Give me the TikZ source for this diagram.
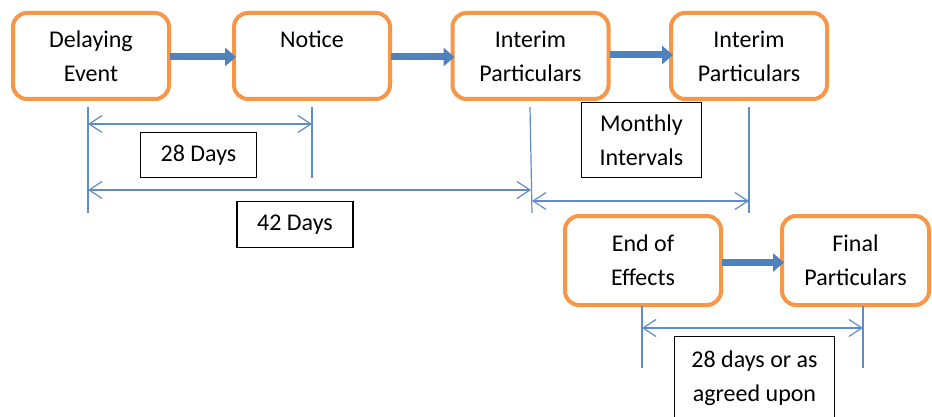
\documentclass[tikz,border=0pt]{standalone}
\usepackage{fontspec}
\setmainfont{Carlito}
\usetikzlibrary{arrows.meta}
\definecolor{boxorange}{RGB}{247,150,70}
\definecolor{flowblue}{RGB}{79,129,189}
\definecolor{dimblue}{RGB}{96,140,200}
\tikzset{
  stagebox/.style={draw=boxorange, line width=4pt, rounded corners=14pt, fill=white,
    minimum width=156pt, minimum height=86pt, align=center, inner sep=0pt,
    font=\fontsize{24}{34}\selectfont},
  labelbox/.style={draw=black, line width=1.3pt, fill=white, align=center, inner xsep=0pt,
    font=\fontsize{24}{34}\selectfont},
  flowarrow/.style={draw=flowblue, line width=7pt,
    -{Triangle[length=11pt,width=18pt]}, shorten >=-4pt, shorten <=-1pt},
  dimline/.style={draw=dimblue, line width=1.2pt},
  dimarrow/.style={draw=dimblue, line width=1.2pt,
    {Straight Barb[length=13pt,width=17pt,line width=1.2pt]}-{Straight Barb[length=13pt,width=17pt,line width=1.2pt]}}
}
\begin{document}
\begin{tikzpicture}[x=1pt,y=-1pt]
\useasboundingbox (0,0) rectangle (932,417);
\clip (0,0) rectangle (932,417);
\fill[white] (0,0) rectangle (932,417);

% stage boxes
\node[stagebox] (b1) at (91,56) {Delaying\\Event};
\node[stagebox] (b2) at (312,56) {Notice\\\mbox{}};
\node[stagebox] (b3) at (530.5,56) {Interim\\Particulars};
\node[stagebox] (b4) at (749,56) {Interim\\Particulars};
\node[stagebox, minimum height=89pt] (b5) at (643,260.5) {End of\\Effects};
\node[stagebox, minimum width=147pt, minimum height=89pt] (b6) at (855.5,260.5) {Final\\Particulars};

% flow arrows
\draw[flowarrow] ([yshift=-1pt]b1.east) -- ([yshift=-1pt]b2.west);
\draw[flowarrow] ([yshift=-1pt]b2.east) -- ([yshift=-1pt]b3.west);
\draw[flowarrow] ([yshift=1pt]b3.east) -- ([yshift=1pt]b4.west);
\draw[flowarrow] ([yshift=-2pt]b5.east) -- ([yshift=-2pt]b6.west);

% extension lines
\coordinate (e1t) at (88,107);   \coordinate (e1b) at (88,213);
\coordinate (e2t) at (312,107);  \coordinate (e2b) at (312,178);
\coordinate (e3t) at (530,107);  \coordinate (e3b) at (532,213);
\coordinate (e4t) at (749,107);  \coordinate (e4b) at (749,213);
\coordinate (e5t) at (642,306);  \coordinate (e5b) at (642,368);
\coordinate (e6t) at (863,306);  \coordinate (e6b) at (863,368);
\draw[dimline] (e1t) -- (e1b);
\draw[dimline] (e2t) -- (e2b);
\draw[dimline] (e3t) -- (e3b);
\draw[dimline] (e4t) -- (e4b);
\draw[dimline] (e5t) -- (e5b);
\draw[dimline] (e6t) -- (e6b);

% dimension arrows
\coordinate (d1a) at (88,124);  \coordinate (d1b) at (312,124);
\coordinate (d2a) at (88,190);  \coordinate (d2b) at (531,190);
\coordinate (d3a) at (532,201); \coordinate (d3b) at (749,201);
\coordinate (d4a) at (642,328); \coordinate (d4b) at (863,328);
\draw[dimarrow] (d1a) -- (d1b);
\draw[dimarrow] (d2a) -- (d2b);
\draw[dimarrow] (d3a) -- (d3b);
\draw[dimarrow] (d4a) -- (d4b);

% label boxes
\node[labelbox, minimum width=116pt, minimum height=45pt] (l1) at (198.5,155) {28 Days};
\node[labelbox, minimum width=116pt, minimum height=46pt] (l2) at (295,224.5) {42 Days};
\node[labelbox, minimum width=120pt, minimum height=75pt] (l3) at (641.5,140) {Monthly\\Intervals};
\node[labelbox, anchor=north, minimum width=160pt, inner ysep=14pt] (l4) at (754.5,336) {28 days or as\\agreed upon};
\end{tikzpicture}
\end{document}
